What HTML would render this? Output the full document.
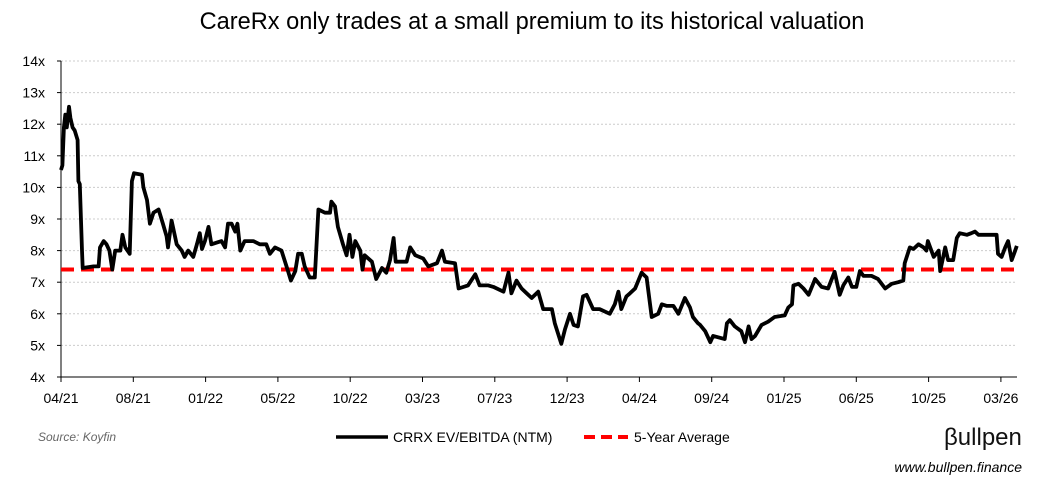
<!DOCTYPE html>
<html><head><meta charset="utf-8"><style>
body{margin:0;background:#fff;font-family:"Liberation Sans",sans-serif;}
svg{display:block}
</style></head><body>
<svg id="chart" width="1045" height="488">
<text x="532" y="29" text-anchor="middle" font-size="23.6" fill="#000">CareRx only trades at a small premium to its historical valuation</text>
<g id="grid"></g><g id="axes"></g><g id="series"></g>
<g>
<line x1="336" y1="437" x2="388" y2="437" stroke="#000" stroke-width="3.5"/>
<text x="393" y="442" font-size="14">CRRX EV/EBITDA (NTM)</text>
<line x1="584" y1="437" x2="628" y2="437" stroke="#f00" stroke-width="4" stroke-dasharray="11,6"/>
<text x="634" y="442" font-size="14">5-Year Average</text>
</g>
<text x="38" y="441" font-size="12" font-style="italic" fill="#666">Source: Koyfin</text>
<text x="944" y="445" font-size="24" fill="#111">βullpen</text>
<text x="1022" y="472" text-anchor="end" font-size="14" font-style="italic" fill="#000">www.bullpen.finance</text>
</svg>
<script>
const xTickLabels=["04/21","08/21","01/22","05/22","10/22","03/23","07/23","12/23","04/24","09/24","01/25","06/25","10/25","03/26"];
const yTicks=[4,5,6,7,8,9,10,11,12,13,14];
const average=7.4;
const days=[0,2,4,6,8,11,13,16,19,23,24,26,29,30,45,52,54,59,63,67,71,75,82,85,89,95,98,101,112,114,119,123,128,135,141,146,148,153,160,167,171,176,183,188,192,195,199,204,208,215,222,227,231,236,241,244,248,254,266,275,284,289,296,305,314,318,324,328,333,337,344,351,356,365,372,374,379,383,390,395,399,403,407,414,
417,420,430,436,444,450,455,460,463,478,483,490,501,508,520,527,531,545,550,563,573,579,591,598,612,619,623,630,637,644,651,660,667,679,683,692,697,704,709,715,722,727,736,745,759,766,771,775,782,787,794,803,810,817,826,831,838,847,854,863,870,874,881,
884,891,898,902,918,921,925,932,941,946,951,955,960,969,978,987,1001,1006,1011,1013,1020,1027,1034,1043,1052,1061,1070,1077,1082,1089,1094,1100,1105,1110,1121,1130,1140,1149,1158,1165,1167,1174,1179,1186,1193,1197,1199,1207,1214,1216,1223,1227,1234,1239,1243,1253,1259,1264,1269,1287,1294,1296,1301,1306,1310,1315,1319,1322];
const multiples=[10.55,10.7,11.9,12.3,11.9,12.55,12.2,11.9,11.8,11.5,10.2,10.1,8.0,7.45,7.5,7.5,8.1,8.3,8.2,8.0,7.4,8.0,8.0,8.5,8.1,7.9,10.2,10.45,10.4,10.0,9.6,8.85,9.2,9.3,8.85,8.45,8.1,8.95,8.2,8.0,7.8,8.0,7.8,8.2,8.55,8.05,8.3,8.75,8.2,8.25,8.3,8.1,8.85,8.85,8.6,8.85,8.0,8.3,8.3,8.2,8.2,7.9,8.1,8.0,7.35,7.05,7.35,7.9,7.9,7.5,7.15,7.15,9.3,9.2,9.2,9.55,9.4,8.75,8.2,7.85,8.5,7.8,8.3,8.0,
7.4,7.85,7.65,7.1,7.45,7.3,7.7,8.4,7.65,7.65,8.1,7.85,7.75,7.5,7.6,8.0,7.65,7.6,6.8,6.9,7.25,6.9,6.9,6.85,6.7,7.3,6.65,7.05,6.8,6.65,6.5,6.7,6.15,6.15,5.7,5.05,5.5,6.0,5.65,5.6,6.55,6.6,6.15,6.15,6.0,6.3,6.7,6.15,6.55,6.65,6.8,7.3,7.15,5.9,6.0,6.3,6.25,6.25,6.0,6.5,6.2,5.9,5.7,
5.65,5.45,5.1,5.3,5.2,5.7,5.8,5.6,5.45,5.1,5.6,5.2,5.3,5.65,5.75,5.9,5.95,6.2,6.3,6.9,6.95,6.8,6.6,7.1,6.85,6.8,7.33,6.6,6.9,7.15,6.85,6.85,7.35,7.2,7.2,7.1,6.8,6.95,7.0,7.05,7.6,8.1,8.05,8.2,8.1,8.0,8.3,7.8,8.0,7.35,8.1,7.7,7.7,8.4,8.55,8.5,8.55,8.6,8.5,8.5,8.5,7.9,7.8,8.1,8.3,7.7,7.95,8.15];
const NS="http://www.w3.org/2000/svg";
const X0=61,X1=1017,Y0=377,Y1=61,TICKW=72.3;
const xs=d=>X0+d/100*TICKW;
const ys=v=>Y0-(v-4)/(14-4)*(Y0-Y1);
function mk(tag,attrs,parent){const e=document.createElementNS(NS,tag);for(const k in attrs)e.setAttribute(k,attrs[k]);parent.appendChild(e);return e;}
const grid=document.getElementById('grid'),axes=document.getElementById('axes'),series=document.getElementById('series');
yTicks.forEach(v=>{
  if(v>4){const g=mk('line',{x1:X0,x2:X1,y1:ys(v),y2:ys(v),stroke:'#ccc','stroke-width':1,'stroke-dasharray':'2,2'},grid);
  
  }
  const t=mk('text',{x:45,y:ys(v)+5,'text-anchor':'end','font-size':14},axes);
  t.textContent=v+'x';
  
  
  const tk=mk('line',{x1:X0-4,x2:X0,y1:ys(v),y2:ys(v),stroke:'#000'},axes);
  
  
});
const ya=mk('line',{x1:X0,x2:X0,y1:Y1,y2:Y0,stroke:'#000','stroke-width':1},axes);


const xa=mk('line',{x1:X0,x2:X1,y1:Y0,y2:Y0,stroke:'#000','stroke-width':1},axes);


xTickLabels.forEach((l,i)=>{
  const x=xs(i*100);
  const tk=mk('line',{x1:x,x2:x,y1:Y0,y2:Y0+5,stroke:'#000'},axes);
  
  
  const t=mk('text',{x:x,y:403,'text-anchor':'middle','font-size':14},axes);
  t.textContent=l;
  
  
});
const avg=mk('line',{x1:X0,x2:X1,y1:ys(average),y2:ys(average),stroke:'#f00','stroke-width':4,'stroke-dasharray':'13,7'},series);


const pts=days.map((d,i)=>xs(d).toFixed(1)+','+ys(multiples[i]).toFixed(1)).join(' ');
const pl=mk('polyline',{points:pts,fill:'none',stroke:'#000','stroke-width':3.8,'stroke-linejoin':'round'},series);


</script>
</body></html>
